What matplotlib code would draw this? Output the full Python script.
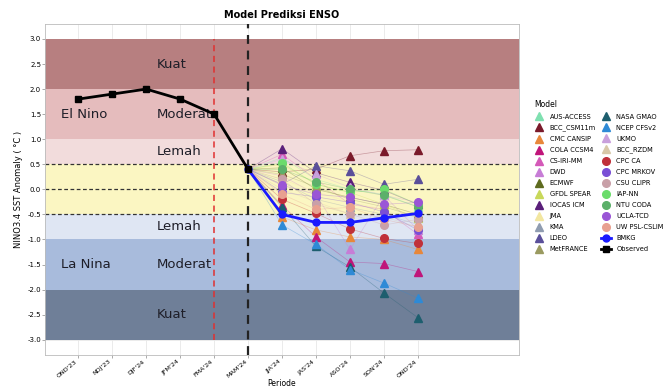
import numpy as np
import matplotlib.pyplot as plt

## Periods on the x axis
periods = ["OND'23", "NDJ'23", "DJF'24", "JFM'24", "FMA'24", "MAM'24",
           "JJA'24", "JAS'24", "ASO'24", "SON'24", "OND'24"]

## Observed index (OND'23 .. MAM'24)
observed = [1.8, 1.9, 2.0, 1.8, 1.5, 0.4]

## BMKG forecast (MAM'24 .. OND'24)
bmkg = [0.4, -0.5, -0.66, -0.66, -0.57, -0.48]

## Model forecasts (JJA'24 .. OND'24)
models = ["AUS-ACCESS", "BCC_CSM11m", "CMC CANSIP", "COLA CCSM4", "CS-IRI-MM", "DWD",
          "ECMWF", "GFDL SPEAR", "IOCAS ICM", "JMA", "KMA", "LDEO", "MetFRANCE",
          "NASA GMAO", "NCEP CFSv2", "UKMO", "BCC_RZDM", "CPC CA", "CPC MRKOV",
          "CSU CLIPR", "IAP-NN", "NTU CODA", "UCLA-TCD", "UW PSL-CSLIM"]
model_vals = [
    [0.63, 0.20, 0.00, -0.10, -0.35],
    [0.35, 0.40, 0.67, 0.77, 0.79],
    [-0.55, -0.81, -0.95, -1.00, -1.20],
    [-0.32, -0.95, -1.45, -1.48, -1.64],
    [0.70, 0.20, -0.30, -0.40, -0.90],
    [0.27, -0.10, -1.20, -0.12, -0.81],
    [0.43, 0.00, -0.16, -0.30, -0.50],
    [0.50, 0.10, -0.06, -0.30, -0.58],
    [0.81, 0.33, 0.14, -0.02, -0.30],
    [0.20, -0.05, -0.26, -0.40, -0.69],
    [0.15, -0.20, -0.36, -0.50, -0.70],
    [0.10, 0.47, 0.37, 0.10, 0.20],
    [0.30, 0.05, -0.20, -0.35, -0.55],
    [-0.35, -1.14, -1.55, -2.07, -2.56],
    [-0.71, -1.10, -1.60, -1.87, -2.17],
    [0.60, 0.30, 0.04, -0.12, -0.26],
    [0.00, -0.25, -0.49, -0.55, -0.75],
    [-0.20, -0.48, -0.79, -0.98, -1.08],
    [-0.06, -0.15, -0.26, -0.45, -0.81],
    [0.20, -0.30, -0.49, -0.71, -0.60],
    [0.53, 0.10, -0.06, 0.00, -0.30],
    [0.40, 0.15, 0.00, -0.12, -0.35],
    [0.08, -0.10, -0.16, -0.30, -0.26],
    [-0.10, -0.40, -0.36, -0.60, -0.75],
]
model_colors = ['#7fe0b0', '#7a1a2a', '#e8873a', '#c0157a', '#d459b8', '#c77dd6',
                '#5e6b1f', '#c8d85a', '#5a1f7a', '#f2e6a0', '#8f9cb0', '#5a4f9a',
                '#9a9a60', '#1d5e6e', '#2e8ad6', '#c9a0dc', '#d8c8a8', '#c0303a',
                '#7a4fd6', '#c9a0a8', '#6bdc6b', '#5cb06a', '#9a55d6', '#e8a090']
model_markers = ['^'] * 17 + ['o'] * 7

## ENSO category bands
bands = [(2.0, 3.0, '#b77f80'), (1.0, 2.0, '#e5bcbd'), (0.5, 1.0, '#f2dcdc'),
         (-0.5, 0.5, '#fbf6c2'), (-1.0, -0.5, '#dfe6f3'), (-2.0, -1.0, '#a8bbdc'),
         (-3.0, -2.0, '#6f7f98')]
band_labels = [(2.5, 'Kuat'), (1.5, 'Moderat'), (0.75, 'Lemah'),
               (-0.75, 'Lemah'), (-1.5, 'Moderat'), (-2.5, 'Kuat')]

fig = plt.figure(figsize=(6.66, 3.92), dpi=100)
ax = fig.add_axes([0.068, 0.095, 0.711, 0.844])

x = np.arange(len(periods))
ax.grid(True, color='#e8e8e8', lw=0.6, zorder=0)
ax.set_axisbelow(True)

for lo, hi, c in bands:
    ax.axhspan(lo, hi, color=c, zorder=1, lw=0)
for y, t in band_labels:
    ax.text(2.3, y, t, fontsize=9.5, va='center', color='#1e1e28', zorder=6)
ax.text(-0.5, 1.5, 'El Nino', fontsize=9.5, va='center', color='#1e1e28', zorder=6)
ax.text(-0.5, -1.5, 'La Nina', fontsize=9.5, va='center', color='#1e1e28', zorder=6)

for y in [0.5, 0.0, -0.5]:
    ax.axhline(y, color='#333333', ls=(0, (3, 2)), lw=0.9, zorder=2)
ax.vlines(4, -3, 3, color='#e03030', ls=(0, (4, 3)), lw=1.1, zorder=3)
ax.axvline(5, color='#222222', ls=(0, (4, 3)), lw=1.6, zorder=3)

fx = x[5:]
for name, vals, c, m in zip(models, model_vals, model_colors, model_markers):
    ax.plot(fx, [observed[-1]] + vals, color=c, lw=0.5, alpha=0.35, zorder=4)
    ax.plot(fx[1:], vals, ls='none', marker=m, ms=5.5, color=c, zorder=5, label=name)

ax.plot(fx, bmkg, color='#1a1aff', lw=2, marker='o', ms=5, zorder=7, label='BMKG')
ax.plot(x[:6], observed, color='black', lw=2, marker='s', ms=5, zorder=8, label='Observed')

ax.set_xlim(-0.97, 12.97)
ax.set_ylim(-3.3, 3.3)
ax.set_yticks(np.arange(-3, 3.01, 0.5))
ax.set_yticklabels([f'{v:.1f}' for v in np.arange(-3, 3.01, 0.5)], fontsize=5)
ax.set_xticks(x)
ax.set_xticklabels(periods, rotation=40, ha='right', fontsize=4.6)
ax.tick_params(length=2, width=0.5, color='#888888', pad=1)
for s in ax.spines.values():
    s.set_color('#bbbbbb')
    s.set_linewidth(0.6)

ax.set_title('Model Prediksi ENSO', fontsize=7, fontweight='bold', pad=4)
ax.set_xlabel('Periode', fontsize=5.5, labelpad=0)
ax.set_ylabel('NINO3.4 SST Anomaly ( °C )', fontsize=6, labelpad=3)

ax.legend(title='Model', loc='center left', bbox_to_anchor=(1.02, 0.54), ncol=2,
          frameon=False, fontsize=4.8, title_fontsize=5.5, handlelength=1.5,
          columnspacing=0.8, labelspacing=0.75, alignment='left')

fig.savefig('out.png', dpi=100)
